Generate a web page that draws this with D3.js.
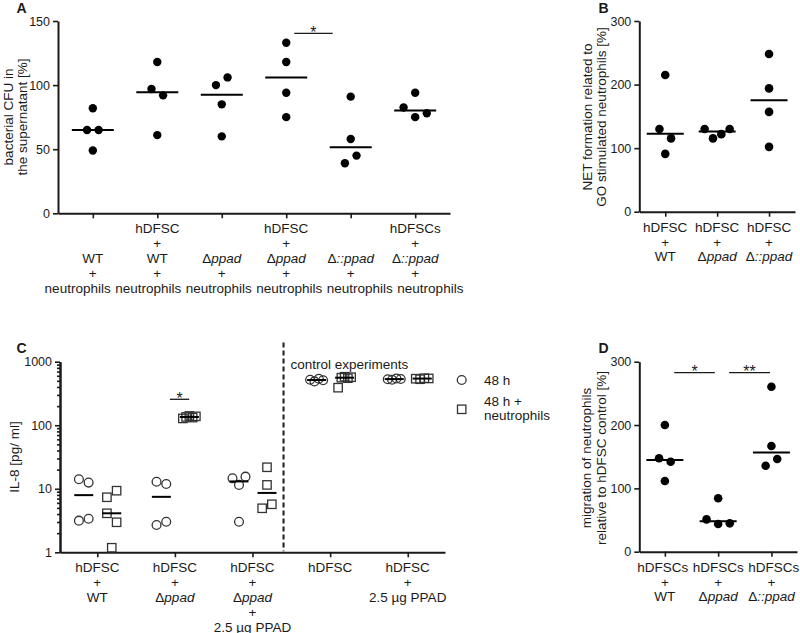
<!DOCTYPE html>
<html><head><meta charset="utf-8">
<script src="https://cdn.jsdelivr.net/npm/d3@7"></script>
<style>
body{margin:0;background:#fff}
svg{display:block}
text{font-family:'Liberation Sans',Arial,Helvetica,sans-serif;fill:#1a1a1a}
</style>
</head><body>
<svg id="fig" width="800" height="633"></svg>
<script>
// ---------------- DATA ----------------
// Panel A: bacterial CFU in the supernatant [%]
const catsA = ["WT + neutrophils","hDFSC + WT + neutrophils","Δppad + neutrophils","hDFSC + Δppad + neutrophils","Δ::ppad + neutrophils","hDFSCs + Δ::ppad + neutrophils"];
const labelsA = [
  ["","","WT","+","neutrophils"],
  ["hDFSC","+","WT","+","neutrophils"],
  ["","","Δppad","+","neutrophils"],
  ["hDFSC","+","Δppad","+","neutrophils"],
  ["","","Δ::ppad","+","neutrophils"],
  ["hDFSCs","+","Δ::ppad","+","neutrophils"]
];
const valuesA = [[82,65,65,49],[118,97,92,61],[100,106,85,60],[133,118,94,75],[91,58,39,45],[94,82.5,75,78]];
const ticksA = [0,50,100,150];
const titleA = ["bacterial CFU in","the supernatant [%]"];

// Panel B: NET formation
const catsB = ["hDFSC + WT","hDFSC + Δppad","hDFSC + Δ::ppad"];
const labelsB = [["hDFSC","+","WT"],["hDFSC","+","Δppad"],["hDFSC","+","Δ::ppad"]];
const valuesB = [[215,130,115.4,91],[130,115.4,122,130],[248,194,157,102]];
const ticksB = [0,100,200,300];
const titleB = ["NET formation related to","GO stimulated neutrophils [%]"];

// Panel C: IL-8 [pg/ ml]
const catsC = ["hDFSC + WT","hDFSC + Δppad","hDFSC + Δppad + 2.5 µg PPAD","hDFSC","hDFSC + 2.5 µg PPAD"];
const labelsC = [
  ["hDFSC","+","WT"],
  ["hDFSC","+","Δppad"],
  ["hDFSC","+","Δppad","+","2.5 µg PPAD"],
  ["hDFSC"],
  ["hDFSC","+","2.5 µg PPAD"]
];
const seriesC = ["48 h","48 h + neutrophils"];
const circlesC = [[14.1,12.5,3.15,3.38],[12.9,11.9,2.69,3.03],[14.6,11.5,15.5,3.03],[520,490,540,510],[530,520,545,535]];
const squaresC = [[7.35,9.33,4.11,2.97,1.18],[128,135,140,132,138],[21.8,11.5,4.93,5.7],[390,560,580,550,570],[540,530,550,545]];
const ticksC = [1,10,100,1000];
const titleC = ["IL-8 [pg/ ml]"];

// Panel D: migration of neutrophils
const catsD = ["hDFSCs + WT","hDFSCs + Δppad","hDFSCs + Δ::ppad"];
const labelsD = [["hDFSCs","+","WT"],["hDFSCs","+","Δppad"],["hDFSCs","+","Δ::ppad"]];
const valuesD = [[200,147.5,142,111.6],[84.3,51,43.7,44.8],[260.5,167,135.8,146.4]];
const ticksD = [0,100,200,300];
const titleD = ["migration of neutrophils","relative to hDFSC control [%]"];

// ---------------- HELPERS ----------------
const svg = d3.select("#fig");
const INK = "#1a1a1a";
const FS = 13.5;

function rich(sel, str){
  if (str.startsWith("Δ")) {
    sel.append("tspan").text("Δ");
    sel.append("tspan").attr("font-style","italic").text(str.slice(1));
  } else sel.text(str);
}

// arrange points of one column: points close in y form a row, centred, in data order
function swarm(vals, y, cx, spacing, maxW, thresh){
  const items = vals.map((v,i)=>({v,i,py:y(v)}));
  const s = items.slice().sort((a,b)=>a.py-b.py);
  const rows=[]; let cur=[s[0]];
  for (let k=1;k<s.length;k++){
    if (s[k].py - s[k-1].py < thresh) cur.push(s[k]); else {rows.push(cur); cur=[s[k]];}
  }
  rows.push(cur);
  rows.forEach(r=>{
    r.sort((a,b)=>a.i-b.i);
    const n=r.length, sp = n>1 ? Math.min(spacing, maxW/(n-1)) : 0;
    r.forEach((it,j)=>{ it.px = cx + (j-(n-1)/2)*sp; });
  });
  return items;
}

function styleAxis(g){
  g.select(".domain").attr("stroke",INK).attr("stroke-width",2);
  g.selectAll(".tick line").attr("stroke",INK).attr("stroke-width",1.6);
  g.selectAll(".tick text").attr("fill",INK).attr("font-size",12.5)
    .attr("font-family","'Liberation Sans',Arial,sans-serif");
}

// 1-D label de-overlap: clusters of touching labels are centred on their anchors
function spread(items, gap){
  items.sort((a,b)=>a.c-b.c);
  let clusters = items.map(it=>({items:[it]}));
  const place = cl=>{
    let off=0; const offs=[];
    cl.items.forEach((it,k)=>{ offs.push(off+it.w/2); off += it.w + (k<cl.items.length-1?gap:0); });
    cl.W = off;
    cl.L = d3.mean(cl.items.map((it,k)=>it.c-offs[k]));
    cl.items.forEach((it,k)=>{ it.x = cl.L+offs[k]; });
  };
  clusters.forEach(place);
  let merged=true;
  while(merged){
    merged=false;
    for(let k=0;k<clusters.length-1;k++){
      const a=clusters[k], b=clusters[k+1];
      if (a.L + a.W + gap > b.L){
        const n={items:a.items.concat(b.items)}; place(n);
        clusters.splice(k,2,n); merged=true; break;
      }
    }
  }
}

function xLabels(g, x, cats, labels, axisY){
  const rows = {};
  cats.forEach((c,i)=>{
    labels[i].forEach((ln,j)=>{
      if (!ln) return;
      const t = g.append("text").attr("x",x(c)).attr("y",axisY+20+j*14.8)
        .attr("text-anchor","middle").attr("font-size",FS);
      rich(t, ln);
      (rows[j] = rows[j] || []).push({c:x(c), w:t.node().getComputedTextLength(), t});
    });
  });
  Object.values(rows).forEach(r=>{
    spread(r, 4.5);
    r.forEach(it=>it.t.attr("x",it.x));
  });
}

function yTitle(g, lines, baseX, cy){
  lines.forEach((ln,j)=>{
    g.append("text").attr("transform",`translate(${baseX[j]},${cy}) rotate(-90)`)
      .attr("text-anchor","middle").attr("font-size",FS).text(ln);
  });
}

function panelLetter(txt, x, y){
  svg.append("text").attr("x",x).attr("y",y).attr("font-weight","bold").attr("font-size",14).text(txt);
}

function sig(g, x1, x2, yy, star){
  g.append("line").attr("x1",x1).attr("x2",x2).attr("y1",yy).attr("y2",yy)
    .attr("stroke",INK).attr("stroke-width",1.3);
  g.append("text").attr("x",(x1+x2)/2).attr("y",yy+4.5).attr("text-anchor","middle")
    .attr("font-size",16).text(star);
}

function dotPanel(cfg){
  const g = svg.append("g");
  const y = d3.scaleLinear().domain([0, d3.max(cfg.ticks)]).range([cfg.yBot, cfg.yTop]);
  const x = d3.scalePoint().domain(cfg.cats).range([cfg.x0, cfg.x1]).padding(cfg.pad);
  g.append("g").attr("transform",`translate(0,${cfg.yBot})`)
    .call(d3.axisBottom(x).tickSize(5).tickSizeOuter(0).tickFormat(""))
    .call(styleAxis);
  g.append("g").attr("transform",`translate(${cfg.x0},0)`)
    .call(d3.axisLeft(y).tickValues(cfg.ticks).tickSize(5).tickSizeOuter(0).tickPadding(3))
    .call(styleAxis);
  cfg.cats.forEach((c,i)=>{
    const pts = swarm(cfg.values[i], y, x(c), cfg.spacing, cfg.maxW, 10);
    g.selectAll(null).data(pts).join("circle")
      .attr("cx",d=>d.px).attr("cy",d=>d.py).attr("r",cfg.r).attr("fill","#000");
    const m = d3.median(cfg.values[i]);
    g.append("line").attr("x1",x(c)-cfg.half).attr("x2",x(c)+cfg.half)
      .attr("y1",y(m)).attr("y2",y(m)).attr("stroke","#000").attr("stroke-width",2);
  });
  xLabels(g, x, cfg.cats, cfg.labels, cfg.yBot);
  yTitle(g, cfg.title, cfg.titleX, cfg.titleY);
  return {g,x,y};
}

// ---------------- PANEL A ----------------
const A = dotPanel({x0:58,x1:450,yTop:21,yBot:213.3,ticks:ticksA,cats:catsA,labels:labelsA,values:valuesA,
  pad:0.54,spacing:11.6,maxW:25,r:4.2,half:21,title:titleA,titleX:[13,26.5],titleY:117});
sig(A.g, A.x(catsA[3])+8, A.x(catsA[4])-18, 33.3, "*");
panelLetter("A",16.5,13);

// ---------------- PANEL B ----------------
const B = dotPanel({x0:639.3,x1:795,yTop:21,yBot:211.7,ticks:ticksB,cats:catsB,labels:labelsB,values:valuesB,
  pad:0.5,spacing:11.6,maxW:25,r:4.3,half:18.5,title:titleB,titleX:[591.5,606],titleY:117});
panelLetter("B",598.5,13);

// ---------------- PANEL D ----------------
const D = dotPanel({x0:639.3,x1:797,yTop:361.7,yBot:551.7,ticks:ticksD,cats:catsD,labels:labelsD,values:valuesD,
  pad:0.48,spacing:11.6,maxW:25,r:4.3,half:18.5,title:titleD,titleX:[591,606],titleY:458});
sig(D.g, D.x(catsD[0])+9.3, D.x(catsD[1])-3.3, 372.7, "*");
sig(D.g, D.x(catsD[1])+11, D.x(catsD[2])-1.4, 372.7, "**");
panelLetter("D",598.5,353);

// ---------------- PANEL C ----------------
(function(){
  const g = svg.append("g");
  const x0=60, x1=445, yTop=361.7, yBot=552.3;
  const y = d3.scaleLog().domain([1,1000]).range([yBot,yTop]);
  const x = d3.scalePoint().domain(catsC).range([x0,x1]).padding(0.48);
  const xs = d3.scalePoint().domain(seriesC).range([-13.5,14.5]);
  const minor = [];
  [1,10,100].forEach(dec=>{ for(let k=2;k<=9;k++) minor.push(dec*k); });
  g.append("g").attr("transform",`translate(${x0},0)`)
    .call(d3.axisLeft(y).tickValues(minor).tickSize(3).tickSizeOuter(0).tickFormat(""))
    .call(styleAxis);
  g.append("g").attr("transform",`translate(${x0},0)`)
    .call(d3.axisLeft(y).tickValues(ticksC).tickSize(5).tickSizeOuter(0).tickPadding(3).tickFormat(d3.format("d")))
    .call(styleAxis);
  g.append("g").attr("transform",`translate(0,${yBot})`)
    .call(d3.axisBottom(x).tickSize(5).tickSizeOuter(0).tickFormat(""))
    .call(styleAxis);

  catsC.forEach((c,i)=>{
    const cxC = x(c)+xs(seriesC[0]), cxS = x(c)+xs(seriesC[1]);
    const pc = swarm(circlesC[i], y, cxC, 9.7, 13, 9.5);
    g.selectAll(null).data(pc).join("circle")
      .attr("cx",d=>d.px).attr("cy",d=>d.py).attr("r",4.4)
      .attr("fill","none").attr("stroke","#333").attr("stroke-width",1.3);
    const ps = swarm(squaresC[i], y, cxS, 9.7, 13, 9.5);
    g.selectAll(null).data(ps).join("rect")
      .attr("x",d=>d.px-4.2).attr("y",d=>d.py-4.2).attr("width",8.4).attr("height",8.4)
      .attr("fill","none").attr("stroke","#333").attr("stroke-width",1.3);
    [[circlesC[i],cxC],[squaresC[i],cxS]].forEach(([vals,cx])=>{
      const m = d3.median(vals);
      g.append("line").attr("x1",cx-9.5).attr("x2",cx+9.5).attr("y1",y(m)).attr("y2",y(m))
        .attr("stroke","#000").attr("stroke-width",2);
    });
  });

  // significance
  const sx = x(catsC[1]);
  sig(g, sx-5, sx+14.3, 399.3, "*");

  // control separator
  const dx = x(catsC[2]) + (x(catsC[3])-x(catsC[2]))*0.4;
  g.append("line").attr("x1",dx).attr("x2",dx).attr("y1",342.5).attr("y2",yBot-1)
    .attr("stroke",INK).attr("stroke-width",2).attr("stroke-dasharray","5,3");
  g.append("text").attr("x",dx+7).attr("y",368.5).attr("font-size",FS).text("control experiments");

  xLabels(g, x, catsC, labelsC, yBot);
  yTitle(g, titleC, [19], 457);

  // legend
  const lg = g.append("g");
  lg.append("circle").attr("cx",461.7).attr("cy",380).attr("r",4.4)
    .attr("fill","none").attr("stroke","#333").attr("stroke-width",1.3);
  lg.append("text").attr("x",484).attr("y",385).attr("font-size",FS).text(seriesC[0]);
  lg.append("rect").attr("x",461.7-4.2).attr("y",409.3-4.2).attr("width",8.4).attr("height",8.4)
    .attr("fill","none").attr("stroke","#333").attr("stroke-width",1.3);
  lg.append("text").attr("x",484).attr("y",405.5).attr("font-size",FS).text("48 h +");
  lg.append("text").attr("x",484).attr("y",420).attr("font-size",FS).text("neutrophils");
})();
panelLetter("C",16.5,353);
</script>
</body></html>
